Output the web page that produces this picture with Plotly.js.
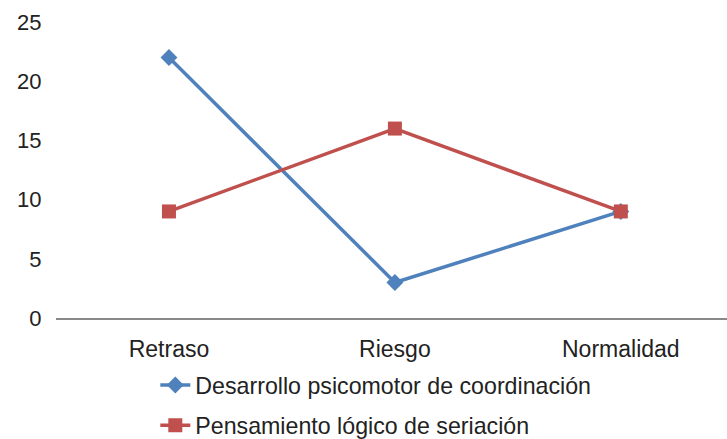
<!DOCTYPE html>
<html>
<head>
<meta charset="utf-8">
<script src="https://cdn.plot.ly/plotly-3.0.1.min.js"></script>
<style>html,body{margin:0;padding:0;background:#fff;}#chart{width:727px;height:439px;}</style>
</head>
<body>
<div id="chart"></div>
<script>
const categories = ["Retraso", "Riesgo", "Normalidad"];
const seriesNames = ["Desarrollo psicomotor de coordinación", "Pensamiento lógico de seriación"];
const coordinacion = [22, 3, 9];
const seriacion = [9, 16, 9];
const yTicks = [0, 5, 10, 15, 20, 25];

const traces = [
  {
    x: categories, y: coordinacion, name: seriesNames[0], type: 'scatter', mode: 'lines+markers',
    line: {color: '#4F81BD', width: 3.5},
    marker: {symbol: 'diamond', size: 13, color: '#4F81BD'},
    legendgroup: 'a'
  },
  {
    x: categories, y: seriacion, name: seriesNames[1], type: 'scatter', mode: 'lines+markers',
    line: {color: '#C0504D', width: 3.5},
    marker: {symbol: 'square', size: 14, color: '#C0504D'},
    legendgroup: 'b'
  }
];

const layout = {
  width: 727, height: 439,
  margin: {l: 56, r: 0, t: 22, b: 121},
  paper_bgcolor: '#fff', plot_bgcolor: '#fff',
  font: {family: 'Liberation Sans, Arial, sans-serif', size: 23, color: '#222'},
  showlegend: true,
  legend: {
    orientation: 'v', x: 0.148, xanchor: 'left', y: 0.172, yref: 'container', yanchor: 'top',
    tracegroupgap: 7, font: {size: 23.2, color: '#222'}, bgcolor: 'rgba(0,0,0,0)'
  },
  xaxis: {
    type: 'category', range: [-0.5, 2.47], showgrid: false, zeroline: false,
    showline: true, linecolor: '#888', linewidth: 1.5,
    ticks: 'outside', ticklen: 10, tickcolor: 'rgba(0,0,0,0)',
    tickfont: {size: 23}
  },
  yaxis: {
    range: [0, 25], tickvals: yTicks, showgrid: false, zeroline: false, showline: false,
    ticks: 'outside', ticklen: 9, tickcolor: 'rgba(0,0,0,0)',
    tickfont: {size: 22}
  }
};

Plotly.newPlot('chart', traces, layout, {displayModeBar: false, staticPlot: true});
</script>
</body>
</html>
